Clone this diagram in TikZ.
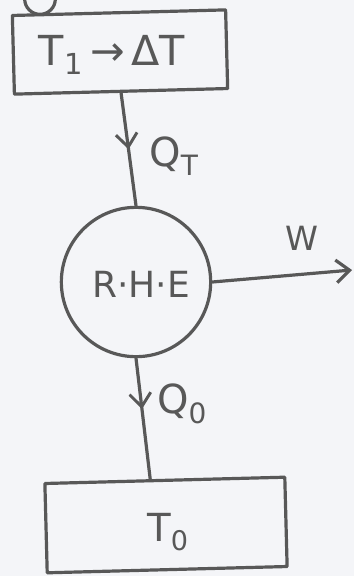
\documentclass[tikz,border=0pt]{standalone}
\usepackage{fontspec}
\setmainfont{DejaVu Sans}
\usetikzlibrary{arrows.meta,decorations.markings,calc}
\definecolor{ink}{HTML}{585858}
\definecolor{paper}{HTML}{F4F5F8}
\tikzset{
  pen/.style={draw=ink, line width=2.4pt, line cap=round, line join=round},
  reservoir/.style={pen, rectangle, inner sep=0pt},
  engine/.style={pen, circle, minimum size=112pt, inner sep=0pt},
  lbl/.style={text=ink, inner sep=0pt},
  midarrow/.style={postaction={decorate, decoration={markings,
      mark=at position #1 with {\arrow[ink, line width=2.2pt]{Straight Barb[length=10pt, width=16pt]}}}}},
  flow/.style={pen},
  workarrow/.style={pen, -{Straight Barb[length=10pt, width=17pt]}}
}
\begin{document}
\begin{tikzpicture}[x=0.75pt, y=-0.75pt]
  \useasboundingbox (0,0) rectangle (354,576);
  \fill[paper] (0,0) rectangle (354,576);
  \clip (0,0) rectangle (354,576);

  % the part of the preceding element, cut by the top edge
  \node[pen, circle, minimum size=23pt, inner sep=0pt] (prev) at (40,-1) {};

  % hot reservoir
  \node[reservoir, minimum width=160pt, minimum height=59pt, rotate=1.5]
    (hot) at (120,52) {};
  \node[lbl, font=\fontsize{31}{34}\selectfont] (hottext) at (112,55)
    {T\textsubscript{1}\,→\,ΔT};

  % reversible heat engine
  \node[engine] (rhe) at (136,282) {};
  \node[lbl, font=\fontsize{27}{30}\selectfont] (rhetext) at (141,284) {R·H·E};

  % cold reservoir
  \node[reservoir, minimum width=180pt, minimum height=67pt, rotate=1.5]
    (cold) at (166,525) {};
  \node[lbl, font=\fontsize{29}{32}\selectfont] (coldtext) at (168,532) {T\textsubscript{0}};

  \coordinate (coldin) at ($(cold.north west)!0.44!(cold.north east)$);
  \coordinate (wend) at (352,270);

  % heat and work flows
  \draw[flow, midarrow=0.5] (hot.south) -- (rhe.north);
  \draw[flow, midarrow=0.42] (rhe.south) -- (coldin);
  \draw[workarrow] (rhe.east) -- (wend);

  \node[lbl, font=\fontsize{30}{33}\selectfont] (qt) at (174,156) {Q\textsubscript{T}};
  \node[lbl, font=\fontsize{30}{33}\selectfont] (q0) at (182,404) {Q\textsubscript{0}};
  \node[lbl, font=\fontsize{25}{28}\selectfont] (w) at (302,238) {W};
\end{tikzpicture}
\end{document}
